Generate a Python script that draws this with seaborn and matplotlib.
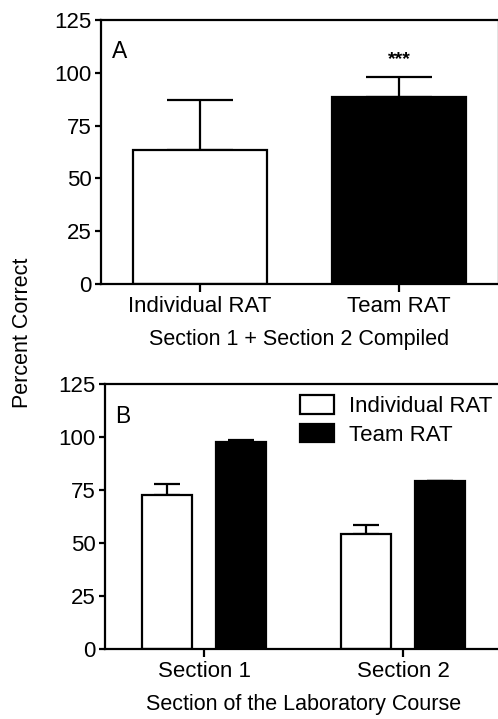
import matplotlib
matplotlib.use("Agg")
import matplotlib.pyplot as plt
import seaborn as sns
import pandas as pd
import numpy as np
from matplotlib.patches import Patch

# ---- data ----
groups_a = ["Individual RAT", "Team RAT"]
means_a = [63.4, 88.4]
err_a = [23.7, 9.8]

sections_b = ["Section 1", "Section 2"]
tests_b = ["Individual RAT", "Team RAT"]
means_b_ind = [72.6, 54.1]
means_b_team = [97.8, 79.1]
err_b_ind = [5.0, 4.3]
err_b_team = [0.8, 0.3]

yticks = [0, 25, 50, 75, 100, 125]
colors = {"Individual RAT": "white", "Team RAT": "black"}

sns.set_theme(style="ticks")
plt.rcParams['font.family'] = ['Liberation Sans', 'DejaVu Sans']
plt.rcParams['text.color'] = 'black'
plt.rcParams['axes.labelcolor'] = 'black'
plt.rcParams['xtick.color'] = 'black'
plt.rcParams['ytick.color'] = 'black'

W, H = 498, 719
fig = plt.figure(figsize=(W / 100, H / 100), dpi=100)

axA = fig.add_axes([100.5 / W, 1 - 284 / H, 398 / W, 264 / H])
axB = fig.add_axes([104.5 / W, 1 - 649 / H, 398 / W, 265 / H])

LW = 1.6
FS = 15.5

# ---- panel A ----
dfA = pd.DataFrame({"group": groups_a, "value": means_a})
sns.barplot(data=dfA, x="group", y="value", hue="group", palette=colors,
            order=groups_a, hue_order=groups_a, width=0.67, errorbar=None,
            edgecolor="black", linewidth=LW, legend=False, ax=axA, zorder=2)
xa = [p.get_x() + p.get_width() / 2 for p in axA.patches]
ha = [p.get_height() for p in axA.patches]
axA.errorbar(xa, ha, yerr=[np.zeros(len(err_a)), err_a], fmt="none",
             ecolor="black", elinewidth=LW, capsize=24, capthick=LW, zorder=1)
axA.text(1, 104, "***", ha="center", va="baseline", fontsize=14,
         fontweight="bold", color="black")
axA.text(-0.44, 106.8, "A", ha="left", va="baseline", fontsize=FS + 1,
         color="black")
axA.set_xlim(-0.5, 1.5)
axA.set_ylim(0, 125)
axA.set_yticks(yticks)
axA.set_xlabel("Section 1 + Section 2 Compiled", fontsize=FS, labelpad=8.5,
               color="black")
axA.set_ylabel("")

# ---- panel B ----
dfB = pd.DataFrame({
    "section": sections_b * 2,
    "test": [tests_b[0]] * 2 + [tests_b[1]] * 2,
    "value": means_b_ind + means_b_team,
})
sns.barplot(data=dfB, x="section", y="value", hue="test", palette=colors,
            order=sections_b, hue_order=tests_b, width=0.75, gap=0.333,
            errorbar=None, edgecolor="black", linewidth=LW, legend=False,
            ax=axB, zorder=2)
errs_b = [err_b_ind, err_b_team]
for cont, errs in zip(axB.containers, errs_b):
    xs = [p.get_x() + p.get_width() / 2 for p in cont]
    hs = [p.get_height() for p in cont]
    axB.errorbar(xs, hs, yerr=[np.zeros(len(errs)), errs], fmt="none",
                 ecolor="black", elinewidth=LW, capsize=9.4, capthick=LW,
                 zorder=1)
axB.text(-0.447, 106.7, "B", ha="left", va="baseline", fontsize=FS + 1,
         color="black")
axB.set_xlim(-0.5, 1.5)
axB.set_ylim(0, 125)
axB.set_yticks(yticks)
axB.set_xlabel("Section of the Laboratory Course", fontsize=FS, labelpad=8.5,
               color="black")
axB.set_ylabel("")
handles = [Patch(facecolor=colors[t], edgecolor="black", linewidth=LW, label=t)
           for t in tests_b]
leg = axB.legend(handles=handles, loc="upper right",
                 bbox_to_anchor=(0.975, 0.958),
                 frameon=False, fontsize=FS + 0.5, handlelength=1.5,
                 handleheight=0.9, handletextpad=0.7, labelspacing=0.3,
                 borderaxespad=0, borderpad=0)
for t in leg.get_texts():
    t.set_color("black")

for ax in (axA, axB):
    for s in ax.spines.values():
        s.set_linewidth(LW)
        s.set_color("black")
    ax.tick_params(axis="y", length=4.3, width=LW, pad=2, labelsize=FS + 0.5,
                   colors="black")
    ax.tick_params(axis="x", length=5.8, width=LW, pad=3, labelsize=FS + 0.5,
                   colors="black")
    ax.set_facecolor("white")

fig.text(22 / W, 1 - 333 / H, "Percent Correct", rotation=90, ha="center",
         va="center", fontsize=FS, color="black")

fig.savefig("out.png", dpi=100, facecolor="white")
